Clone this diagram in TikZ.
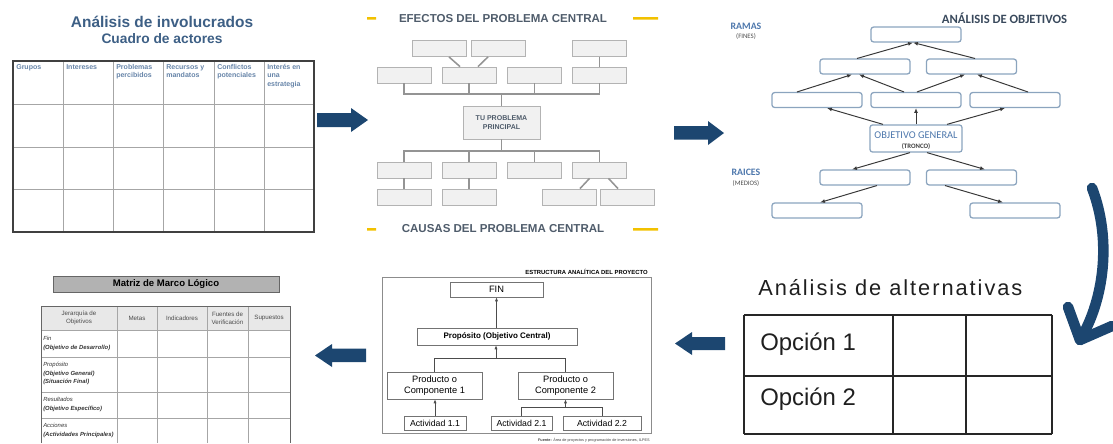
\documentclass[tikz,border=0pt]{standalone}
\usepackage{fontspec}
\setmainfont{Liberation Sans}
\newfontfamily\calib{Carlito}
\newfontfamily\spaced[LetterSpace=9]{Liberation Sans}
\usetikzlibrary{calc,arrows.meta}
\definecolor{navy}{HTML}{1C4670}
\definecolor{slate}{HTML}{3D5F85}
\definecolor{headblue}{HTML}{6684A8}
\definecolor{gold}{HTML}{F2C100}
\definecolor{efgray}{HTML}{4F5C6B}
\definecolor{boxfill}{HTML}{F1F1F1}
\definecolor{boxline}{HTML}{B3B3B3}
\definecolor{objline}{HTML}{8BA4BE}
\definecolor{objblue}{HTML}{4D77AC}
\definecolor{objtitle}{HTML}{39495C}

\begin{document}
\begin{tikzpicture}[x=0.025cm,y=-0.025cm,
  efbox/.style={draw=boxline,fill=boxfill,line width=0.6pt,minimum width=1.35cm,minimum height=0.4cm,inner sep=0pt},
  efline/.style={draw=black!42,line width=1.1pt},
  obbox/.style={draw=objline,line width=0.9pt,rounded corners=1.8pt,minimum width=2.25cm,minimum height=0.37cm,inner sep=0pt},
  obarrow/.style={-{Latex[length=3.5pt,width=2.8pt]},line width=0.7pt,draw=black!78},
  eapbox/.style={draw=black!55,line width=0.5pt,inner sep=0pt,align=center,font=\fontsize{6.6}{7.6}\selectfont},
  eaparrow/.style={-{Latex[length=2.8pt,width=2.2pt]},line width=0.45pt,draw=black!70},
  hdr/.style={anchor=north west,align=left,inner sep=0pt,text=headblue,font=\fontsize{5}{6}\selectfont\bfseries},
  mmlhead/.style={align=center,inner sep=0pt,text=black!70,font=\fontsize{4.4}{5.6}\selectfont},
  mmlrow/.style={anchor=north west,align=left,inner sep=0pt,text=black!80,font=\fontsize{4.2}{6}\selectfont}
]
\useasboundingbox (0,0) rectangle (1113,443);

% analisis de involucrados
\node[anchor=base,text=slate,font=\fontsize{11}{12}\selectfont\bfseries] (inv) at (162,27) {Análisis de involucrados};
\node[anchor=base,text=slate,font=\fontsize{9.8}{11}\selectfont\bfseries] (act) at (162,43) {Cuadro de actores};
\foreach \x in {63,113,163,214,264} \draw[black!35,line width=0.5pt] (\x,61) -- (\x,232);
\foreach \y in {104,147,189} \draw[black!35,line width=0.5pt] (13,\y) -- (314,\y);
\draw[black!75,line width=0.9pt] (13,61) rectangle (314,232);
\foreach \x/\txt in {13/Grupos,63/Intereses,113/{Problemas\\percibidos},163/{Recursos y\\mandatos},214/{Conflictos\\potenciales},264/{Interés en\\una\\estrategia}}
  \node[hdr] (h\x) at (\x+3,64) {\txt};

\fill[navy] (317,113) -- (351,113) -- (351,108) -- (368,120) -- (351,132) -- (351,127) -- (317,127) -- cycle;

% arbol de problemas
\fill[gold] (367,17) rectangle (376,19.5) (633,17) rectangle (658,19.5);
\fill[gold] (367,228) rectangle (376,230.5) (633,228) rectangle (658,230.5);
\node[anchor=base,text=efgray,font=\fontsize{8.2}{9}\selectfont\bfseries] (efe) at (503,22) {EFECTOS DEL PROBLEMA CENTRAL};
\node[anchor=base,text=efgray,font=\fontsize{8.2}{9}\selectfont\bfseries] (cau) at (503,232) {CAUSAS DEL PROBLEMA CENTRAL};

\node[efbox] (e1) at (439,48.5) {};
\node[efbox] (e2) at (498,48.5) {};
\node[efbox] (e3) at (599.5,48.5) {};
\node[efbox] (f1) at (404,75) {};
\node[efbox] (f2) at (469,75) {};
\node[efbox] (f3) at (534.5,75) {};
\node[efbox] (f4) at (599.5,75) {};
\node[efbox,minimum width=1.925cm,minimum height=0.825cm,align=center,text=efgray,font=\fontsize{5}{6.4}\selectfont\bfseries] (tp) at (501.5,122.5) {TU PROBLEMA\\PRINCIPAL};
\node[efbox] (c1) at (404,170) {};
\node[efbox] (c2) at (469,170) {};
\node[efbox] (c3) at (534.5,170) {};
\node[efbox] (c4) at (599.5,170) {};
\node[efbox] (d1) at (404.5,197) {};
\node[efbox] (d2) at (469,197) {};
\node[efbox] (d3) at (569,197) {};
\node[efbox] (d4) at (627.5,197) {};

\coordinate (busE) at (501.5,94);
\coordinate (busC) at (501.5,151);
\draw[efline] ($(e1.south)+(10,0)$) -- ($(f2.north)+(-9,0)$);
\draw[efline] ($(e2.south)+(-10,0)$) -- ($(f2.north)+(9,0)$);
\draw[efline] (e3.south) -- (f4.north);
\draw[efline] (f1.south) |- (busE) -| (f4.south);
\draw[efline] (f2.south) -- (f2.south |- busE);
\draw[efline] (f3.south) -- (f3.south |- busE);
\draw[efline] (busE) -- (tp.north);
\draw[efline] (tp.south) -- (busC);
\draw[efline] (c1.north) |- (busC) -| (c4.north);
\draw[efline] (c2.north) -- (c2.north |- busC);
\draw[efline] (c3.north) -- (c3.north |- busC);
\draw[efline] (c1.south) -- (d1.north -| c1.south);
\draw[efline] (c2.south) -- (d2.north);
\draw[efline] ($(c4.south)+(-10,0)$) -- ($(d3.north)+(11,0)$);
\draw[efline] ($(c4.south)+(9,0)$) -- ($(d4.north)+(-9.5,0)$);

\fill[navy] (674,126) -- (708,126) -- (708,121) -- (724,133) -- (708,145) -- (708,139.5) -- (674,139.5) -- cycle;

% analisis de objetivos
\node[anchor=base,text=objtitle,font=\calib\fontsize{9}{10}\selectfont\bfseries] (obj) at (1004.5,23) {ANÁLISIS DE OBJETIVOS};
\node[anchor=base,text=objblue,font=\calib\fontsize{7}{8}\selectfont\bfseries] (ram) at (746,29.5) {RAMAS};
\node[anchor=base,text=black!70,font=\calib\fontsize{4.8}{5}\selectfont] (fin) at (746,38) {(FINES)};
\node[anchor=base,text=objblue,font=\calib\fontsize{7}{8}\selectfont\bfseries] (rai) at (746,175) {RAICES};
\node[anchor=base,text=black!70,font=\calib\fontsize{4.8}{5}\selectfont] (med) at (746,185) {(MEDIOS)};

\node[obbox] (t0) at (916,34.5) {};
\node[obbox] (r1) at (865,66.5) {};
\node[obbox] (r2) at (971.5,66.5) {};
\node[obbox] (s1) at (817,100) {};
\node[obbox] (s2) at (916,100) {};
\node[obbox] (s3) at (1015,100) {};
\node[obbox,minimum width=2.3cm,minimum height=0.675cm] (og) at (916,138.5) {};
\node[anchor=base,text=objblue,font=\calib\fontsize{7.4}{8}\selectfont] (ogt) at (916,138) {OBJETIVO GENERAL};
\node[anchor=base,text=black!75,font=\calib\fontsize{4.8}{5}\selectfont\bfseries] (tro) at (916,148) {(TRONCO)};
\node[obbox] (m1) at (865,177.5) {};
\node[obbox] (m2) at (971.5,177.5) {};
\node[obbox] (b1) at (817,210.5) {};
\node[obbox] (b2) at (1015,210.5) {};

\draw[obarrow] ($(r1.north)+(-8,0)$) -- ($(t0.south)+(-3,0)$);
\draw[obarrow] ($(r2.north)+(3.5,0)$) -- ($(t0.south)+(-3,0)$);
\draw[obarrow] ($(s1.north)+(-20,0)$) -- ($(r1.south)+(-13,0)$);
\draw[obarrow] ($(s2.north)+(-12,0)$) -- ($(r1.south)+(-6,0)$);
\draw[obarrow] ($(s2.north)+(1,0)$) -- ($(r2.south)+(-6.5,0)$);
\draw[obarrow] ($(s3.north)+(13,0)$) -- ($(r2.south)+(5.5,0)$);
\draw[obarrow] ($(og.north)+(-33,0)$) -- ($(s1.south)+(10,0)$);
\draw[obarrow] (og.north) -- (s2.south);
\draw[obarrow] ($(og.north)+(31,0)$) -- ($(s3.south)+(-10,0)$);
\draw[obarrow] ($(og.south)+(-6,0)$) -- ($(m1.north)+(-13,0)$);
\draw[obarrow] ($(og.south)+(11,0)$) -- ($(m2.north)+(13.5,0)$);
\draw[obarrow] ($(m1.south)+(12,0)$) -- ($(b1.north)+(3,0)$);
\draw[obarrow] ($(m2.south)+(-26.5,0)$) -- ($(b2.north)+(-12,0)$);

% flecha curva
\draw[navy,line width=7.5pt,line cap=round,line join=round] (1092,188) .. controls (1112,240) and (1104,300) .. (1080,340);
\draw[navy,line width=7.5pt,line cap=round,line join=round] (1068,307) -- (1080,340) -- (1112,326);

% analisis de alternativas
\node[anchor=base west,inner sep=0pt,text=black!88,font=\spaced\fontsize{15.5}{17}\selectfont] (alt) at (758,295) {Análisis de alternativas};
\foreach \x in {744,893,966,1052} \draw[black!85,line width=1.1pt] (\x,315) -- (\x,434);
\foreach \y in {315,376,434} \draw[black!85,line width=1.1pt] (744,\y) -- (1052,\y);
\node[anchor=base west,inner sep=0pt,text=black!88,font=\fontsize{17}{19}\selectfont] (op1) at (760,350) {Opción 1};
\node[anchor=base west,inner sep=0pt,text=black!88,font=\fontsize{17}{19}\selectfont] (op2) at (760,405) {Opción 2};

\fill[navy] (675,343.5) -- (692,332) -- (692,337) -- (725,337) -- (725,350) -- (692,350) -- (692,355) -- cycle;

% estructura analitica
\node[anchor=base east,inner sep=0pt,font=\fontsize{4.2}{5}\selectfont\bfseries] (eap) at (648,274) {ESTRUCTURA ANALÍTICA DEL PROYECTO};
\draw[black!45,line width=0.6pt] (382,277) rectangle (651,433);
\node[eapbox,minimum width=2.325cm,minimum height=0.375cm] (fn) at (496.5,289.5) {FIN};
\node[eapbox,minimum width=4cm,minimum height=0.425cm,font=\fontsize{5.7}{7}\selectfont\bfseries] (prop) at (497,336.5) {Propósito (Objetivo Central)};
\node[eapbox,minimum width=2.375cm,minimum height=0.675cm] (p1) at (434.5,385.5) {Producto o\\Componente 1};
\node[eapbox,minimum width=2.375cm,minimum height=0.675cm] (p2) at (565.5,385.5) {Producto o\\Componente 2};
\node[eapbox,minimum width=1.55cm,minimum height=0.35cm,font=\fontsize{6.2}{7}\selectfont] (a11) at (435,423) {Actividad 1.1};
\node[eapbox,minimum width=1.525cm,minimum height=0.35cm,font=\fontsize{6.2}{7}\selectfont] (a21) at (521.5,423) {Actividad 2.1};
\node[eapbox,minimum width=1.95cm,minimum height=0.35cm,font=\fontsize{6.2}{7}\selectfont] (a22) at (602,423) {Actividad 2.2};
\coordinate (j1) at (496,358);
\coordinate (j2) at (565.5,407);
\draw[eaparrow] (prop.north -| fn.south) -- (fn.south);
\draw[black!70,line width=0.45pt] (p1.north) |- (p2.north |- j1) -- (p2.north);
\draw[eaparrow] (j1) -- (j1 |- prop.south);
\draw[black!70,line width=0.45pt] (a21.north) |- (a22.north |- j2) -- (a22.north);
\draw[eaparrow] (j2) -- (p2.south);
\draw[eaparrow] (a11.north) -- (a11.north |- p1.south);
\node[anchor=base east,inner sep=0pt,text=black!75,font=\fontsize{2.7}{3}\selectfont] (fte) at (650,441) {\textbf{Fuente:} Área de proyectos y programación de inversiones, ILPES};

\fill[navy] (315,355.5) -- (332,344) -- (332,348.5) -- (366,348.5) -- (366,362) -- (332,362) -- (332,367) -- cycle;

% matriz de marco logico
\node[draw=black!60,fill=black!30,line width=0.6pt,minimum width=5.65cm,minimum height=0.4cm,inner sep=0pt,font=\fontsize{6.8}{8}\selectfont\bfseries] (mml) at (166,284) {Matriz de Marco Lógico};
\fill[black!9] (41,306) rectangle (290,330);
\foreach \x in {117,157,207,248} \draw[black!35,line width=0.5pt] (\x,306) -- (\x,443);
\foreach \y in {330,357,392,418} \draw[black!35,line width=0.5pt] (41,\y) -- (290,\y);
\draw[black!60,line width=0.7pt] (41,443) -- (41,306) -- (290,306) -- (290,443);
\node[mmlhead] (hj) at (79,318) {Jerarquía de\\Objetivos};
\node[mmlhead] (hm) at (137,318) {Metas};
\node[mmlhead] (hi) at (182,318) {Indicadores};
\node[mmlhead] (hf) at (227.5,318) {Fuentes de\\Verificación};
\node[mmlhead] (hs) at (269,318) {Supuestos};
\node[mmlrow] (rf) at (43,336) {\itshape Fin\\\bfseries\itshape (Objetivo de Desarrollo)};
\node[mmlrow] (rp) at (43,362) {\itshape Propósito\\\bfseries\itshape (Objetivo General)\\\bfseries\itshape (Situación Final)};
\node[mmlrow] (rr) at (43,397) {\itshape Resultados\\\bfseries\itshape (Objetivo Específico)};
\node[mmlrow] (ra) at (43,423) {\itshape Acciones\\\bfseries\itshape (Actividades Principales)};
\end{tikzpicture}
\end{document}
